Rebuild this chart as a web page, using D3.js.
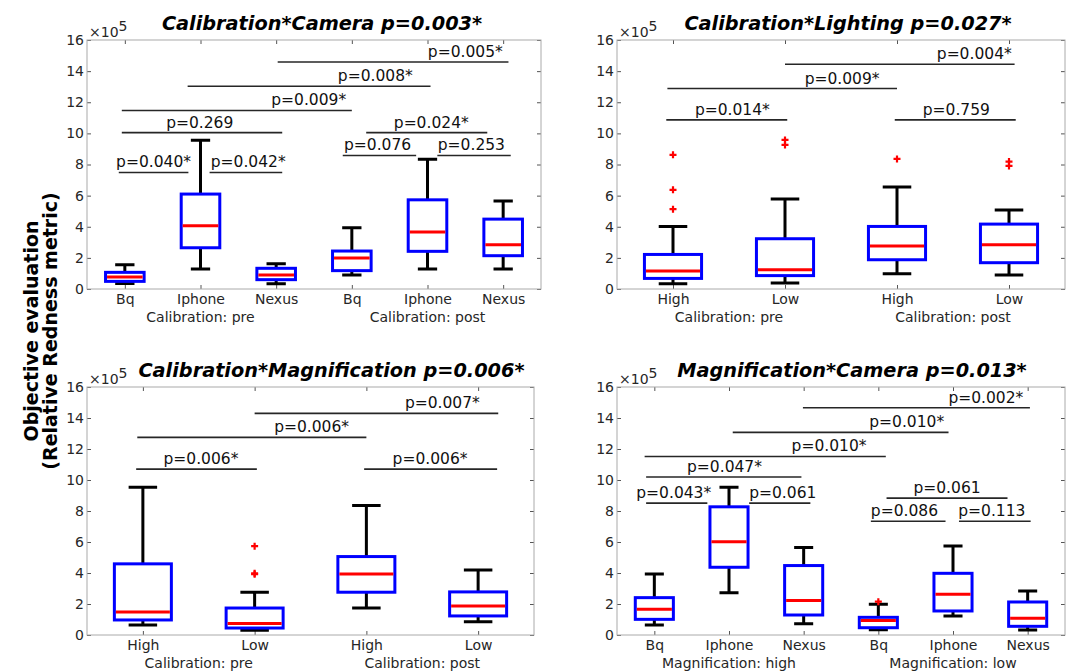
<!DOCTYPE html>
<html>
<head>
<meta charset="utf-8">
<script src="https://cdn.jsdelivr.net/npm/d3@7"></script>
<style>
  body { margin: 0; background: #fff; }
  text { font-family: "DejaVu Sans", Verdana, sans-serif; }
</style>
</head>
<body>
<svg id="chart" width="1072" height="671"></svg>
<script>
// shared
const yTicks = [0, 2, 4, 6, 8, 10, 12, 14, 16];
const camCats = ["Bq", "Iphone", "Nexus", "Bq", "Iphone", "Nexus"];
const lightCats = ["High", "Low", "High", "Low"];
const calGroups = ["Calibration: pre", "Calibration: post"];
const magGroups = ["Magnification: high", "Magnification: low"];

// panel A: Calibration*Camera (values x10^5)
const aLow  = [0.36, 1.28, 0.34, 0.90, 1.28, 1.28];
const aQ1   = [0.49, 2.65, 0.60, 1.18, 2.42, 2.14];
const aMed  = [0.77, 4.06, 0.90, 1.99, 3.66, 2.84];
const aQ3   = [1.07, 6.10, 1.33, 2.44, 5.73, 4.49];
const aHigh = [1.56, 9.56, 1.63, 3.94, 8.34, 5.65];
const aOut  = [[], [], [], [], [], []];
const aPairs = [
  {from: -0.08, to: 0.84, y: 7.49, at: 0.38, p: "p=0.040*"},
  {from: 1.12, to: 2.08, y: 7.49, at: 1.63, p: "p=0.042*"},
  {from: -0.04, to: 2.08, y: 10.05, at: 0.99, p: "p=0.269"},
  {from: -0.04, to: 3.0, y: 11.47, at: 2.43, p: "p=0.009*"},
  {from: 0.83, to: 4.04, y: 13.03, at: 3.31, p: "p=0.008*"},
  {from: 2.02, to: 5.07, y: 14.59, at: 4.50, p: "p=0.005*"},
  {from: 2.88, to: 3.85, y: 8.58, at: 3.34, p: "p=0.076"},
  {from: 4.13, to: 5.10, y: 8.58, at: 4.58, p: "p=0.253"},
  {from: 3.19, to: 4.79, y: 10.05, at: 4.05, p: "p=0.024*"}
];

// panel B: Calibration*Lighting
const bLow  = [0.34, 0.39, 0.98, 0.90];
const bQ1   = [0.68, 0.86, 1.88, 1.69];
const bMed  = [1.16, 1.24, 2.76, 2.84];
const bQ3   = [2.22, 3.23, 4.02, 4.17];
const bHigh = [4.02, 5.78, 6.55, 5.07];
const bOut  = [[8.62, 6.37, 5.13], [9.58, 9.26], [8.36], [8.19, 7.91]];
const bPairs = [
  {from: -0.06, to: 1.02, y: 10.87, at: 0.53, p: "p=0.014*"},
  {from: -0.05, to: 2.0, y: 12.88, at: 1.51, p: "p=0.009*"},
  {from: 1.0, to: 3.05, y: 14.44, at: 2.69, p: "p=0.004*"},
  {from: 1.98, to: 3.06, y: 10.87, at: 2.53, p: "p=0.759"}
];

// panel C: Calibration*Magnification
const cLow  = [0.65, 0.30, 1.74, 0.86];
const cQ1   = [0.97, 0.45, 2.76, 1.23];
const cMed  = [1.49, 0.75, 3.94, 1.87];
const cQ3   = [4.59, 1.74, 5.06, 2.78];
const cHigh = [9.54, 2.76, 8.35, 4.20];
const cOut  = [[], [5.73, 3.98, 3.92], [], []];
const cPairs = [
  {from: -0.06, to: 1.02, y: 10.70, at: 0.52, p: "p=0.006*"},
  {from: -0.05, to: 2.0, y: 12.75, at: 1.51, p: "p=0.006*"},
  {from: 1.0, to: 3.18, y: 14.30, at: 2.68, p: "p=0.007*"},
  {from: 1.98, to: 3.17, y: 10.70, at: 2.57, p: "p=0.006*"}
];

// panel D: Magnification*Camera
const dLow  = [0.65, 2.73, 0.73, 0.34, 1.23, 0.32];
const dQ1   = [1.01, 4.37, 1.29, 0.47, 1.55, 0.56];
const dMed  = [1.66, 6.01, 2.22, 0.93, 2.63, 1.08];
const dQ3   = [2.41, 8.27, 4.48, 1.14, 3.98, 2.13];
const dHigh = [3.94, 9.54, 5.64, 1.98, 5.75, 2.84];
const dOut  = [[], [], [], [2.15], [], []];
const dPairs = [
  {from: -0.11, to: 0.71, y: 8.51, at: 0.26, p: "p=0.043*"},
  {from: 1.27, to: 2.09, y: 8.51, at: 1.72, p: "p=0.061"},
  {from: -0.11, to: 1.97, y: 10.19, at: 0.94, p: "p=0.047*"},
  {from: -0.13, to: 3.10, y: 11.52, at: 2.34, p: "p=0.010*"},
  {from: 1.05, to: 3.94, y: 13.07, at: 3.38, p: "p=0.010*"},
  {from: 1.99, to: 5.03, y: 14.66, at: 4.44, p: "p=0.002*"},
  {from: 3.11, to: 4.73, y: 8.83, at: 3.92, p: "p=0.061"},
  {from: 2.90, to: 3.90, y: 7.34, at: 3.35, p: "p=0.086"},
  {from: 4.08, to: 5.04, y: 7.34, at: 4.52, p: "p=0.113"}
];

const svg = d3.select("#chart");

function panel(o) {
  const n = o.cats.length;
  const x = d3.scaleLinear().domain([-0.5, n - 0.5]).range([o.left, o.right]);
  const y = d3.scaleLinear().domain([0, 16]).range([o.bottom, o.top]);
  const step = (o.right - o.left) / n;
  const bw = step * 0.51;
  const g = svg.append("g");

  // axes: inward ticks on all four sides
  const ax = g.append("g").attr("class", "axes");
  ax.append("g").attr("transform", `translate(${o.left},0)`)
    .call(d3.axisLeft(y).tickValues(yTicks).tickSize(-4).tickPadding(3));
  ax.append("g").attr("transform", `translate(${o.right},0)`)
    .call(d3.axisRight(y).tickValues(yTicks).tickSize(-4).tickFormat(""));
  ax.append("g").attr("transform", `translate(0,${o.bottom})`)
    .call(d3.axisBottom(x).tickValues(d3.range(n)).tickSize(-4).tickPadding(5)
      .tickFormat(i => o.cats[i]));
  ax.append("g").attr("transform", `translate(0,${o.top})`)
    .call(d3.axisTop(x).tickValues(d3.range(n)).tickSize(-4).tickFormat(""));
  ax.selectAll(".domain").remove();
  ax.selectAll(".tick line").attr("stroke", "#555");
  ax.selectAll(".tick text").attr("fill", "#262626")
    .style("font-family", "DejaVu Sans").style("font-size", "14px");
  g.append("rect")
    .attr("x", o.left).attr("y", o.top)
    .attr("width", o.right - o.left).attr("height", o.bottom - o.top)
    .attr("fill", "none").attr("stroke", "#aaa").attr("stroke-width", 1);

  // group labels
  g.selectAll(".grp").data(o.groups).join("text")
    .attr("x", (d, k) => x(k * n / 2 + (n / 2 - 1) / 2))
    .attr("y", o.bottom + 33)
    .attr("text-anchor", "middle")
    .attr("fill", "#262626")
    .style("font-size", "14px")
    .text(d => d);

  // x10^5 multiplier
  const mult = g.append("text")
    .attr("x", o.left + 2).attr("y", o.top - 3)
    .attr("fill", "#262626").style("font-size", "14px");
  mult.append("tspan").text("×10");
  mult.append("tspan").attr("dy", -6).text("5");

  // title
  g.append("text")
    .attr("x", (o.left + o.right) / 2 + o.titleDx)
    .attr("y", o.top - 10)
    .attr("text-anchor", "middle")
    .style("font-size", "19.3px").style("font-weight", "bold").style("font-style", "italic")
    .text(o.title);

  // boxes
  const idx = d3.range(n);
  g.selectAll(".whisk").data(idx).join("path")
    .attr("d", i => `M${x(i)},${y(o.q3[i])}V${y(o.hi[i])}M${x(i) - bw / 4},${y(o.hi[i])}H${x(i) + bw / 4}` +
      `M${x(i)},${y(o.q1[i])}V${y(o.lo[i])}M${x(i) - bw / 4},${y(o.lo[i])}H${x(i) + bw / 4}`)
    .attr("stroke", "#000").attr("stroke-width", 3).attr("fill", "none");
  g.selectAll(".box").data(idx).join("rect")
    .attr("x", i => x(i) - bw / 2).attr("width", bw)
    .attr("y", i => y(o.q3[i])).attr("height", i => y(o.q1[i]) - y(o.q3[i]))
    .attr("fill", "none").attr("stroke", "#0000ff").attr("stroke-width", 3);
  g.selectAll(".med").data(idx).join("line")
    .attr("x1", i => x(i) - bw / 2 + 1.5).attr("x2", i => x(i) + bw / 2 - 1.5)
    .attr("y1", i => y(o.med[i])).attr("y2", i => y(o.med[i]))
    .attr("stroke", "#ff0000").attr("stroke-width", 3);
  const outs = idx.flatMap(i => o.out[i].map(v => [i, v]));
  g.selectAll(".out").data(outs).join("path")
    .attr("d", d => `M${x(d[0]) - 3.5},${y(d[1])}h7M${x(d[0])},${y(d[1]) - 3.5}v7`)
    .attr("stroke", "#ff0000").attr("stroke-width", 2.2);

  // significance brackets
  g.selectAll(".pl").data(o.pairs).join("line")
    .attr("x1", d => x(d.from)).attr("x2", d => x(d.to))
    .attr("y1", d => y(d.y)).attr("y2", d => y(d.y))
    .attr("stroke", "#262626").attr("stroke-width", 1.6);
  g.selectAll(".pt").data(o.pairs).join("text")
    .attr("x", d => x(d.at)).attr("y", d => y(d.y) - 5)
    .attr("text-anchor", "middle")
    .attr("fill", "#111")
    .style("font-size", "15.5px")
    .text(d => d.p);
}

panel({left: 87, right: 541, top: 40, bottom: 289, titleDx: 8,
  title: "Calibration*Camera p=0.003*", cats: camCats, groups: calGroups,
  lo: aLow, q1: aQ1, med: aMed, q3: aQ3, hi: aHigh, out: aOut, pairs: aPairs});
panel({left: 617, right: 1065, top: 40, bottom: 289, titleDx: 7,
  title: "Calibration*Lighting p=0.027*", cats: lightCats, groups: calGroups,
  lo: bLow, q1: bQ1, med: bMed, q3: bQ3, hi: bHigh, out: bOut, pairs: bPairs});
panel({left: 87, right: 534, top: 387, bottom: 635, titleDx: 21,
  title: "Calibration*Magnification p=0.006*", cats: lightCats, groups: calGroups,
  lo: cLow, q1: cQ1, med: cMed, q3: cQ3, hi: cHigh, out: cOut, pairs: cPairs});
panel({left: 617, right: 1065, top: 387, bottom: 635, titleDx: 11,
  title: "Magnification*Camera p=0.013*", cats: camCats, groups: magGroups,
  lo: dLow, q1: dQ1, med: dMed, q3: dQ3, hi: dHigh, out: dOut, pairs: dPairs});

// shared y label
const yl = svg.append("g").style("font-size", "19px").style("font-weight", "bold");
yl.append("text").attr("transform", "translate(38,331) rotate(-90)")
  .attr("text-anchor", "middle").text("Objective evaluation");
yl.append("text").attr("transform", "translate(57,331) rotate(-90)")
  .attr("text-anchor", "middle").text("(Relative Redness metric)");
</script>
</body>
</html>
